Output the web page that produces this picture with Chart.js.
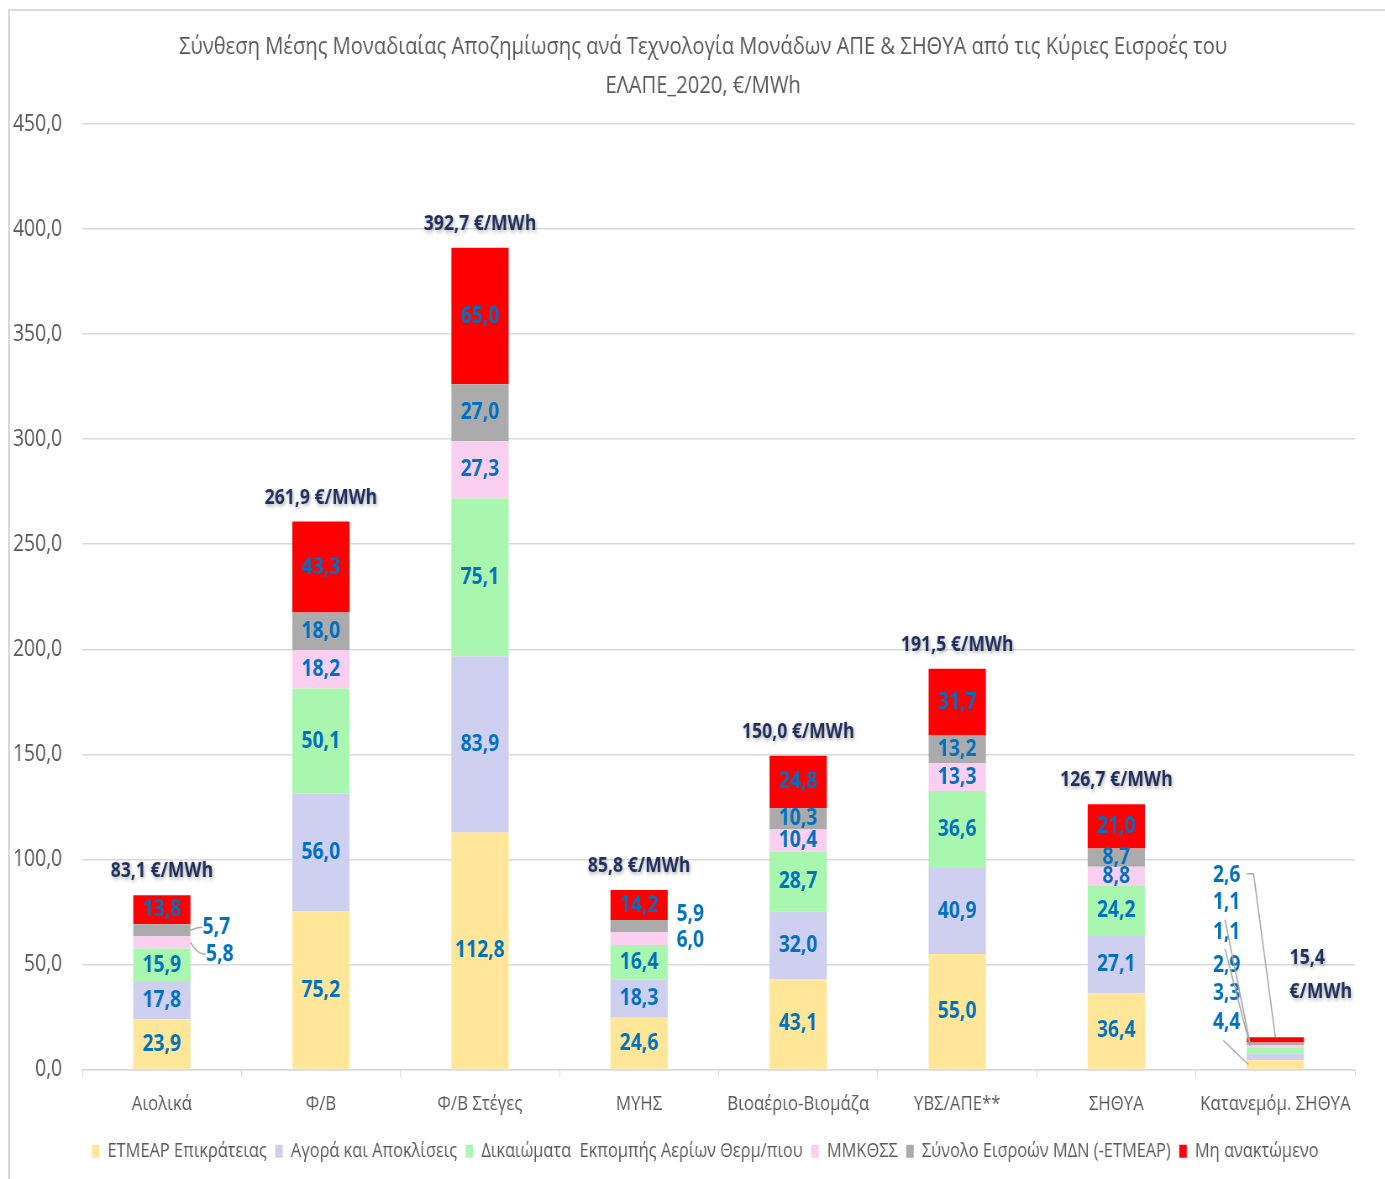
<!DOCTYPE html>
<html>
<head>
<meta charset="utf-8">
<script src="https://cdn.jsdelivr.net/npm/chart.js@4.4.1/dist/chart.umd.min.js"></script>
<style>
  html, body { margin: 0; padding: 0; background: #fff; overflow: hidden; }
  #frame { position: absolute; left: 8px; top: 9px; width: 1400px; height: 1200px;
           border-left: 2px solid #d9d9d9; border-top: 2px solid #d9d9d9; }
  /* the reference is a horizontally squeezed picture, so the chart is drawn wider and squeezed */
  #wrap { position: absolute; left: 0; top: 0; width: 1649px; height: 1179px;
          transform: scaleX(0.84); transform-origin: 0 0; }
</style>
</head>
<body>
<div id="frame"></div>
<div id="wrap">
  <canvas id="chart"></canvas>
</div>
<script>
// --- DATA ---
const categories = ["Αιολικά", "Φ/Β", "Φ/Β Στέγες", "ΜΥΗΣ", "Βιοαέριο-Βιομάζα", "ΥΒΣ/ΑΠΕ**", "ΣΗΘΥΑ", "Κατανεμόμ. ΣΗΘΥΑ"];

const seriesNames = ["ΕΤΜΕΑΡ Επικράτειας", "Αγορά και Αποκλίσεις", "Δικαιώματα  Εκπομπής Αερίων Θερμ/πιου",
                     "ΜΜΚΘΣΣ", "Σύνολο Εισροών ΜΔΝ (-ΕΤΜΕΑΡ)", "Μη ανακτώμενο"];

const etmear     = [23.9, 75.2, 112.8, 24.6, 43.1, 55.0, 36.4, 4.4];
const market     = [17.8, 56.0, 83.9, 18.3, 32.0, 40.9, 27.1, 3.3];
const emissions  = [15.9, 50.1, 75.1, 16.4, 28.7, 36.6, 24.2, 2.9];
const mmkthss    = [5.8, 18.2, 27.3, 6.0, 10.4, 13.3, 8.8, 1.1];
const mdn        = [5.7, 18.0, 27.0, 5.9, 10.3, 13.2, 8.7, 1.1];
const unrecov    = [13.8, 43.3, 65.0, 14.2, 24.8, 31.7, 21.0, 2.6];

const totals     = [83.1, 261.9, 392.7, 85.8, 150.0, 191.5, 126.7, 15.4];

const yTicks = [0, 50, 100, 150, 200, 250, 300, 350, 400, 450];

// --- STYLE ---
const colors = ["#FFE699", "#CFCFF0", "#A9F7AE", "#FACFF0", "#ABABAB", "#FF0000"];
const FONT = "'Open Sans', sans-serif";
const gray = "#595959";

// labels that sit outside of the bar: [category][dataset] -> offset from segment centre
const outside = {
    0: { 3: { dx: 69, dy: 12, lead: true }, 4: { dx: 65, dy: -3, lead: true } },
    3: { 3: { dx: 61, dy: 2 }, 4: { dx: 61, dy: -12 } },
    7: { 0: { dx: -58, dy: -42, lead: true }, 1: { dx: -58, dy: -63 }, 2: { dx: -58, dy: -85 },
         3: { dx: -58, dy: -114, lead: true }, 4: { dx: -58, dy: -141, lead: true },
         5: { dx: -58, dy: -164, lead: true } }
};

const fmt = v => v.toFixed(1).replace(".", ",");

// --- PLUGINS ---
const titlePlugin = {
    id: "titleText",
    afterLayout(chart) {
        // legend sits a little right of the canvas centre in the original
        chart.legend.left += 26;
        chart.legend.right += 26;
    },
    afterDraw(chart) {
        const ctx = chart.ctx;
        ctx.save();
        ctx.fillStyle = gray;
        ctx.font = "24px " + FONT;
        ctx.textAlign = "center";
        ctx.textBaseline = "middle";
        ctx.fillText("Σύνθεση Μέσης Μοναδιαίας Αποζημίωσης ανά Τεχνολογία Μονάδων ΑΠΕ & ΣΗΘΥΑ από τις Κύριες Εισροές του", 837, 47);
        ctx.fillText("ΕΛΑΠΕ_2020, €/MWh", 837, 86);
        ctx.restore();
    }
};

const valuePlugin = {
    id: "values",
    afterDatasetsDraw(chart) {
        const ctx = chart.ctx;
        ctx.save();
        ctx.textAlign = "center";
        ctx.textBaseline = "middle";

        chart.data.datasets.forEach((ds, i) => {
            const meta = chart.getDatasetMeta(i);
            meta.data.forEach((bar, j) => {
                const cy = (bar.y + bar.base) / 2;
                let x = bar.x, y = cy;
                const o = outside[j] && outside[j][i];
                if (o) { x += o.dx; y += o.dy; }

                if (o && o.lead) {
                    ctx.strokeStyle = "#a6a6a6";
                    ctx.lineWidth = 1.5;
                    ctx.beginPath();
                    if (j === 7) {
                        if (i === 5) {
                            ctx.moveTo(x + 24, y - 2);
                            ctx.lineTo(x + 32, y - 2);
                            ctx.lineTo(bar.x, bar.y);
                        } else if (i === 0) {
                            ctx.moveTo(x - 4, y + 18);
                            ctx.lineTo(bar.x - bar.width / 2 + 2, cy);
                        } else {
                            ctx.moveTo(x - 2, y + 17);
                            ctx.lineTo(bar.x - bar.width / 2 + 4, cy);
                        }
                    } else {
                        const ex = bar.x + bar.width / 2;
                        ctx.moveTo(ex, cy);
                        ctx.quadraticCurveTo(ex + 8, y, x - 17, y);
                    }
                    ctx.stroke();
                }

                ctx.font = "bold 23px " + FONT;
                ctx.fillStyle = "#0070C0";
                ctx.fillText(fmt(ds.data[j]), x, y);
            });
        });

        // totals above bars
        const top = chart.getDatasetMeta(chart.data.datasets.length - 1);
        top.data.forEach((bar, j) => {
            ctx.font = "bold 21px " + FONT;
            ctx.fillStyle = "#1F2F5C";
            ctx.shadowColor = "rgba(0,0,0,0.35)";
            ctx.shadowBlur = 4;
            ctx.shadowOffsetX = 1;
            ctx.shadowOffsetY = 2;
            if (j === 7) {
                ctx.fillText(fmt(totals[j]), bar.x + 38, 958);
                ctx.fillText("€/MWh", bar.x + 54, 992);
            } else {
                ctx.fillText(fmt(totals[j]) + " €/MWh", bar.x, bar.y - 24);
            }
        });
        ctx.restore();
    }
};

// --- CHART ---
const series = [etmear, market, emissions, mmkthss, mdn, unrecov];

new Chart(document.getElementById("chart"), {
    type: "bar",
    data: {
        labels: categories,
        datasets: series.map((values, i) => ({
            label: seriesNames[i],
            data: values,
            backgroundColor: colors[i],
            categoryPercentage: 0.72,
            barPercentage: 0.5
        }))
    },
    options: {
        responsive: true,
        maintainAspectRatio: false,
        animation: false,
        devicePixelRatio: 1,
        layout: { padding: { left: 14, right: 36, top: 124, bottom: 8 } },
        plugins: {
            legend: {
                position: "bottom",
                labels: {
                    boxWidth: 9, boxHeight: 13,
                    padding: 10,
                    color: gray,
                    font: { family: FONT, size: 19.5 }
                }
            },
            tooltip: { enabled: false }
        },
        scales: {
            x: {
                stacked: true,
                afterFit: s => { s.height = 62; },
                grid: { display: true, drawOnChartArea: false, drawTicks: true, tickLength: 8,
                        color: "#d9d9d9", offset: true },
                border: { color: "#d9d9d9", width: 1.5 },
                ticks: { color: gray, padding: 15, maxRotation: 0, autoSkip: false,
                         font: { family: FONT, size: 20 } }
            },
            y: {
                stacked: true,
                min: 0,
                max: 450,
                afterBuildTicks: s => { s.ticks = yTicks.map(v => ({ value: v })); },
                afterFit: s => { s.width = 84; },
                grid: { color: "#d9d9d9", lineWidth: 1.5, drawTicks: false },
                border: { display: false },
                ticks: {
                    color: gray,
                    padding: 24,
                    font: { family: FONT, size: 23 },
                    callback: v => fmt(v)
                }
            }
        }
    },
    plugins: [titlePlugin, valuePlugin]
});
</script>
</body>
</html>
